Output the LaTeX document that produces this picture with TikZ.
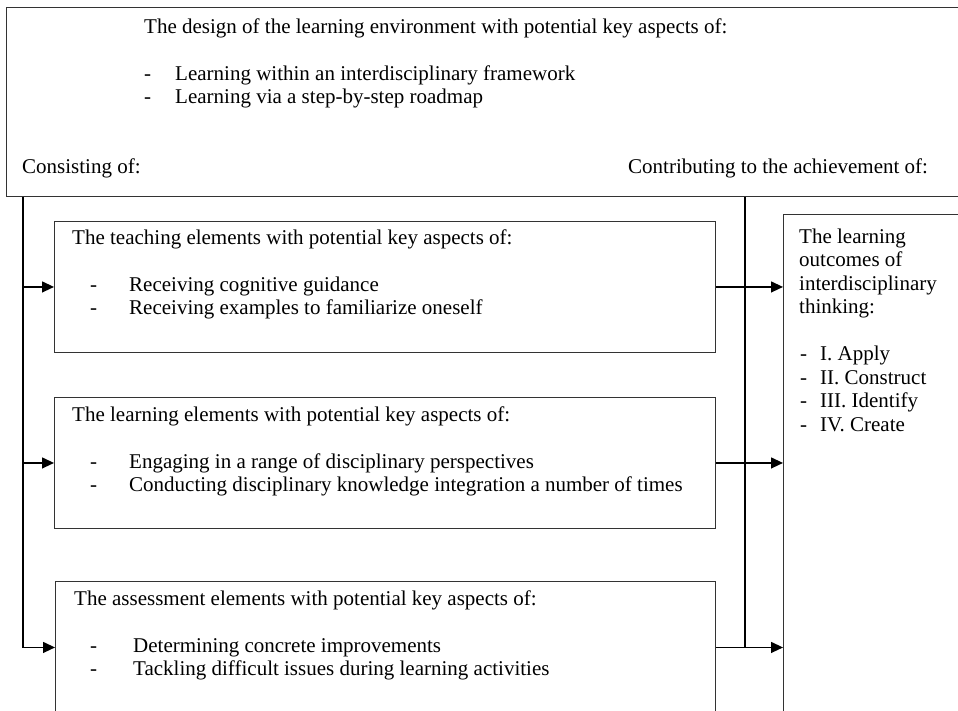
\documentclass[tikz,border=0pt]{standalone}
\usepackage{fontspec}
\setmainfont{Liberation Serif}
\usetikzlibrary{arrows.meta}
\newcommand{\itm}[3]{\hspace*{#1}\makebox[#2][l]{-}#3}

\begin{document}
\begin{tikzpicture}[x=1pt,y=-1pt]
      \tikzset{frame/.style={draw=black!80, line width=0.9pt, inner sep=0pt, anchor=north west},
               words/.style={inner sep=0pt, anchor=base west, font=\fontsize{21}{23.5}\selectfont},
               link/.style={line width=1.3pt},
               arr/.style={link, -{Triangle[length=12pt,width=11pt]}}}
      \useasboundingbox (0,0) rectangle (958,710);
      \clip (0,0) rectangle (958,710);
%% Boxes
      	\node[frame, minimum width=970pt, minimum height=189pt] (design) at (6,7) {};
      	\node[frame, minimum width=661pt, minimum height=131pt] (teach) at (54,221) {};
      	\node[frame, minimum width=661pt, minimum height=131pt] (learn) at (54,397) {};
      	\node[frame, minimum width=660pt, minimum height=132pt] (assess) at (55,581) {};
      	\node[frame, minimum width=200pt, minimum height=520pt] (outcome) at (783,214) {};
%% Texts
      	\node[words] (designtxt) at (144,33) {\begin{tabular}[t]{@{}l@{}}The design of the learning environment with potential key aspects of:\\ \\
      	      \itm{0pt}{31pt}{Learning within an interdisciplinary framework}\\ \itm{0pt}{31pt}{Learning via a step-by-step roadmap}\end{tabular}};
      	\node[words] (consist) at (22,173) {Consisting of:};
      	\node[words] (contrib) at (628,173) {Contributing to the achievement of:};
      	\node[words] (teachtxt) at (72,244) {\begin{tabular}[t]{@{}l@{}}The teaching elements with potential key aspects of:\\ \\
      	      \itm{18pt}{39pt}{Receiving cognitive guidance}\\ \itm{18pt}{39pt}{Receiving examples to familiarize oneself}\end{tabular}};
      	\node[words] (learntxt) at (72,421) {\begin{tabular}[t]{@{}l@{}}The learning elements with potential key aspects of:\\ \\
      	      \itm{18pt}{39pt}{Engaging in a range of disciplinary perspectives}\\ \itm{18pt}{39pt}{Conducting disciplinary knowledge integration a number of times}\end{tabular}};
      	\node[words] (assesstxt) at (74,605) {\begin{tabular}[t]{@{}l@{}}The assessment elements with potential key aspects of:\\ \\
      	      \itm{16pt}{43pt}{Determining concrete improvements}\\ \itm{16pt}{43pt}{Tackling difficult issues during learning activities}\end{tabular}};
      	\node[words] (outcometxt) at (799,243) {\begin{tabular}[t]{@{}l@{}}The learning\\ outcomes of\\ interdisciplinary\\ thinking:\\ \\
      	      \itm{1pt}{20pt}{I. Apply}\\ \itm{1pt}{20pt}{II. Construct}\\ \itm{1pt}{20pt}{III. Identify}\\ \itm{1pt}{20pt}{IV. Create}\end{tabular}};
%Connectors
      	\coordinate (lx) at (23,0);
      	\coordinate (rx) at (745,0);
		\draw[arr] (lx |- design.south) -- (lx |- assess.west) -- (assess.west);
		\draw[arr] (lx |- teach.west) -- (teach.west);
		\draw[arr] (lx |- learn.west) -- (learn.west);
		\draw[link] (rx |- design.south) -- (rx |- assess.east);
		\draw[arr] (teach.east) -- (teach.east -| outcome.west);
		\draw[arr] (learn.east) -- (learn.east -| outcome.west);
		\draw[arr] (assess.east) -- (assess.east -| outcome.west);
	\end{tikzpicture}
\end{document}
